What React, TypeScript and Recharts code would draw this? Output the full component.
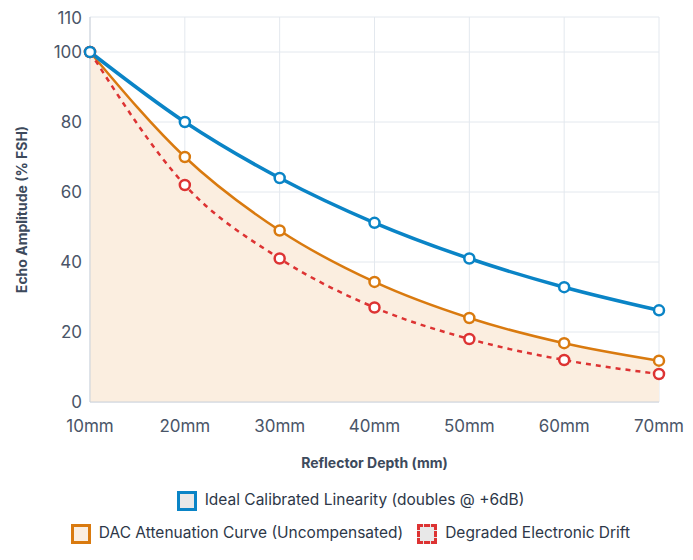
import React from "react"
import { ComposedChart, Area, Line, XAxis, YAxis, CartesianGrid } from "recharts"

const depths = ["10mm", "20mm", "30mm", "40mm", "50mm", "60mm", "70mm"]
const ideal = [100, 80, 64, 51.2, 41, 32.8, 26.2]
const dac = [100, 70, 49, 34.3, 24, 16.8, 11.8]
const drift = [100, 62, 41, 27, 18, 12, 8]
const yTicks = [0, 20, 40, 60, 80, 100, 110]

const data = depths.map((d, i) => ({ depth: d, ideal: ideal[i], dac: dac[i], drift: drift[i] }))

const font = "Inter, 'Noto Sans', sans-serif"

const dot = (color: string) => ({ r: 5, fill: "#fff", stroke: color, strokeWidth: 2.5, strokeDasharray: "0" })

const Swatch = ({ stroke, fill, dashed }: { stroke: string; fill: string; dashed?: boolean }) => (
  <span style={{ display: "inline-block", width: 14, height: 14, border: `3px ${dashed ? "dashed" : "solid"} ${stroke}`, background: fill, marginRight: 8, verticalAlign: "middle" }} />
)

export default function App() {
  return (
    <div style={{ width: 677, fontFamily: font }}>
      <ComposedChart width={677} height={476} data={data} margin={{ top: 9, right: 26, bottom: 8, left: 0 }}>
        <CartesianGrid stroke="#e3e8ee" />
        <XAxis dataKey="depth" tick={{ fill: "#4a5568", fontSize: 17 }} tickLine={false} axisLine={{ stroke: "#cbd2da" }} tickMargin={12} height={74}
          label={{ value: "Reflector Depth (mm)", position: "insideBottom", offset: 8, fill: "#3d4a5c", fontSize: 14, fontWeight: 700 }} />
        <YAxis domain={[0, 110]} ticks={yTicks} width={82} tick={{ fill: "#4a5568", fontSize: 17 }} tickLine={false} axisLine={{ stroke: "#cbd2da" }}
          label={{ value: "Echo Amplitude (% FSH)", angle: -90, position: "insideLeft", offset: 14, style: { textAnchor: "middle" }, fill: "#3d4a5c", fontSize: 14, fontWeight: 700 }} />
        <Area type="monotone" dataKey="dac" stroke="#d97a0f" strokeWidth={2.5} fill="#fbeee0" fillOpacity={1} dot={dot("#d97a0f")} isAnimationActive={false} />
        <Line type="monotone" dataKey="drift" stroke="#dd3333" strokeWidth={2.5} strokeDasharray="5 5" dot={dot("#dd3333")} isAnimationActive={false} />
        <Line type="monotone" dataKey="ideal" stroke="#0a84c6" strokeWidth={3.5} dot={dot("#0a84c6")} isAnimationActive={false} />
      </ComposedChart>
      <div style={{ fontSize: 15.5, color: "#2d3748", textAlign: "center", marginLeft: 8 }}>
        <div style={{ marginTop: 6 }}><Swatch stroke="#0a84c6" fill="#e8e8e8" />Ideal Calibrated Linearity (doubles @ +6dB)</div>
        <div style={{ marginTop: 12 }}>
          <Swatch stroke="#d97a0f" fill="#fbeee0" />DAC Attenuation Curve (Uncompensated)
          <span style={{ marginLeft: 14 }}><Swatch stroke="#dd3333" fill="#e8e8e8" dashed />Degraded Electronic Drift</span>
        </div>
      </div>
    </div>
  )
}
